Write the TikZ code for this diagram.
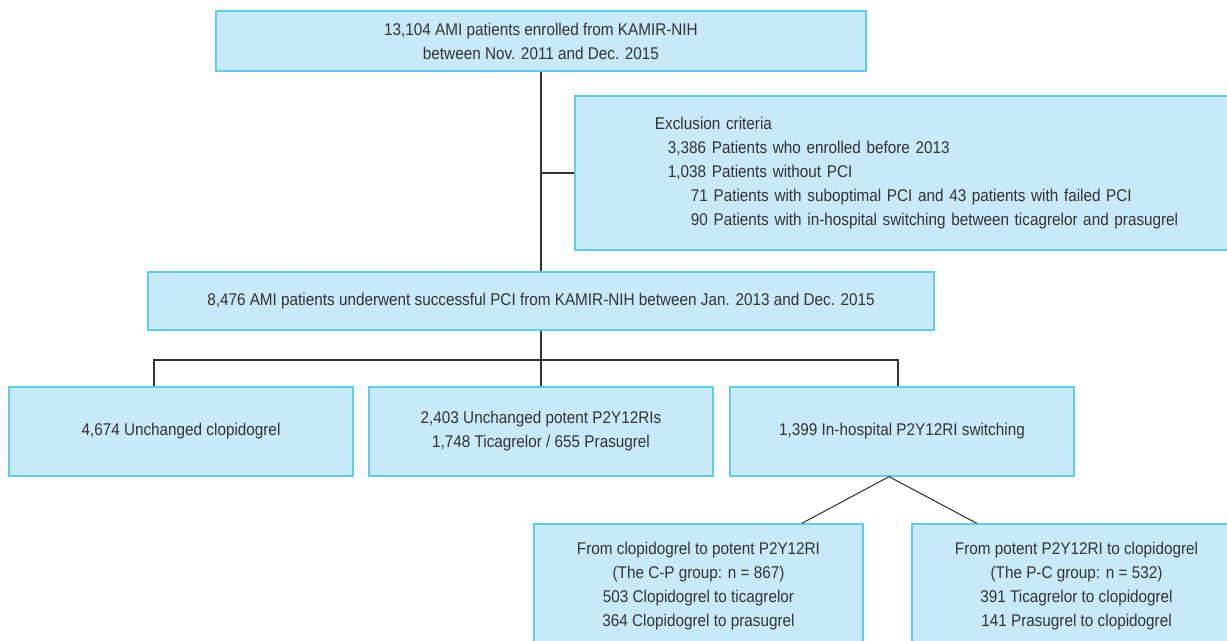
\documentclass[tikz,border=0pt]{standalone}
\usepackage{fontspec}
\setmainfont{Liberation Sans}[FakeStretch=0.9]
\usetikzlibrary{positioning,calc}
\definecolor{boxfill}{HTML}{C7E9F8}
\definecolor{boxline}{HTML}{5CCDF1}
\definecolor{ink}{HTML}{333333}

\begin{document}
\begin{tikzpicture}[
  x=0.03cm,y=-0.03cm,
  box/.style={draw=boxline, fill=boxfill, line width=1.1pt, align=center, text=ink, inner sep=0pt, font=\fontsize{14.5}{20.4}\selectfont},
  link/.style={draw=ink, line width=0.9pt}
]
  \useasboundingbox (0,0) rectangle (1227,640);
  \clip (0,0) rectangle (1227,640);

  \node[box, minimum width=19.5cm, minimum height=1.8cm] (enrol) at (541,41) {13,104 AMI patients enrolled from KAMIR-NIH\\between Nov. 2011 and Dec. 2015};
  \node[box, text width=16.8cm, inner xsep=2.4cm, minimum height=4.62cm, align=left] (excl) at (935,173) {Exclusion criteria\\
    \hspace*{0.39cm}3,386 Patients who enrolled before 2013\\
    \hspace*{0.39cm}1,038 Patients without PCI\\
    \hspace*{1.08cm}71 Patients with suboptimal PCI and 43 patients with failed PCI\\
    \hspace*{1.08cm}90 Patients with in-hospital switching between ticagrelor and prasugrel};
  \node[box, minimum width=23.58cm, minimum height=1.74cm] (pci) at (541,301) {8,476 AMI patients underwent successful PCI from KAMIR-NIH between Jan. 2013 and Dec. 2015};

  \node[box, minimum width=10.32cm, minimum height=2.67cm] (clop) at (181,431.5) {4,674 Unchanged clopidogrel};
  \node[box, minimum width=10.32cm, minimum height=2.67cm] (potent) at (541,431.5) {2,403 Unchanged potent P2Y12RIs\\1,748 Ticagrelor / 655 Prasugrel};
  \node[box, minimum width=10.32cm, minimum height=2.67cm] (switch) at (902,431.5) {1,399 In-hospital P2Y12RI switching};

  \node[box, minimum width=9.87cm, minimum height=3.72cm] (cp) at (698.5,586) {From clopidogrel to potent P2Y12RI\\(The C-P group: n = 867)\\503 Clopidogrel to ticagrelor\\364 Clopidogrel to prasugrel};
  \node[box, minimum width=9.87cm, minimum height=3.72cm] (pc) at (1076.5,586) {From potent P2Y12RI to clopidogrel\\(The P-C group: n = 532)\\391 Ticagrelor to clopidogrel\\141 Prasugrel to clopidogrel};

  \coordinate (bar) at (541,360);
  \coordinate (apex) at ([xshift=-0.39cm]switch.south);

  \draw[link] (enrol.south) -- (pci.north);
  \draw[link] (excl.west) -- (excl.west -| enrol.south);
  \draw[link] (pci.south) -- (potent.north);
  \draw[link] ([xshift=-0.81cm]clop.north) |- (bar) -| ([xshift=-0.12cm]switch.north);
  \draw[link] ([xshift=3.1cm]cp.north) -- (apex) -- ([xshift=-2.99cm]pc.north);
\end{tikzpicture}
\end{document}
